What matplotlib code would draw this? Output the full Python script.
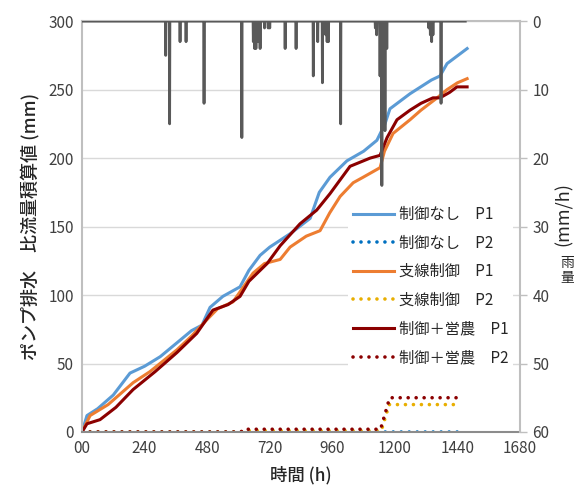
import numpy as np
import matplotlib
matplotlib.use("Agg")
import matplotlib.pyplot as plt

plt.rcParams['font.family'] = ['Noto Sans CJK JP', 'DejaVu Sans']

# cumulative specific discharge of pump drainage (mm), P1 series
h_none_p1 = [0, 19, 60, 120, 184, 240, 300, 376, 420, 460, 491, 540, 606, 640, 683, 720, 800,
             875, 910, 951, 1016, 1080, 1131, 1162, 1181, 1258, 1340, 1373, 1400, 1477]
v_none_p1 = [0, 12, 17, 27, 43, 48, 55, 67, 74, 78, 91, 99, 106, 118, 129, 135, 145,
             156, 175, 186, 198, 205, 213, 225, 236, 247, 257, 260, 269, 280]

h_branch_p1 = [0, 31, 100, 196, 260, 364, 420, 479, 520, 579, 656, 700, 760, 798, 860, 913,
               950, 990, 1040, 1078, 1143, 1160, 1193, 1258, 1300, 1362, 1400, 1440, 1477]
v_branch_p1 = [0, 12, 20, 36, 44, 60, 70, 82, 90, 95, 116, 123, 126, 135, 143, 147,
               160, 172, 182, 186, 193, 205, 218, 228, 235, 244, 250, 255, 258]

h_farm_p1 = [0, 19, 69, 130, 196, 280, 364, 440, 502, 560, 606, 640, 710, 760, 836, 900,
             951, 1028, 1105, 1143, 1170, 1208, 1258, 1300, 1346, 1373, 1410, 1438, 1477]
v_farm_p1 = [0, 6, 9, 18, 31, 44, 58, 72, 89, 93, 99, 110, 123, 136, 152, 162,
             174, 194, 200, 202, 215, 228, 235, 240, 244, 244, 248, 252, 252]

# P2 series
h_none_p2 = [0, 1450]
v_none_p2 = [0, 0]
h_branch_p2 = [0, 610, 618, 1148, 1178, 1450]
v_branch_p2 = [0, 0, 1, 1, 20, 20]
h_farm_p2 = [0, 610, 618, 1145, 1180, 1450]
v_farm_p2 = [0, 0, 2, 2, 25, 25]

# hourly rainfall events (hour, mm/h); other hours are dry
rain_hours = [321, 336, 376, 399, 468, 613, 657, 662, 667, 672, 677, 683, 700, 714, 720,
              779, 821, 887, 904, 922, 935, 940, 945, 992, 1125, 1130, 1143, 1150, 1156,
              1162, 1169, 1330, 1336, 1341, 1346, 1377]
rain_vals = [5, 15, 3, 3, 12, 17, 3, 4, 4, 2, 3, 4, 1, 1, 1,
             4, 4, 8, 3, 9, 2, 3, 3, 15, 1, 2, 8, 24, 3,
             16, 4, 1, 2, 3, 2, 12]
rain_end = 1470

hours = np.arange(rain_end + 1)
rain = np.zeros(len(hours))
rain[rain_hours] = rain_vals

fig = plt.figure(figsize=(5.74, 4.92), dpi=100)
ax = fig.add_axes([0.1429, 0.122, 0.7631, 0.835])
ax2 = ax.twinx()

grid_c = '#D9D9D9'
ax.set_xlim(0, 1680)
ax.set_ylim(0, 300)
ax.set_xticks(range(0, 1681, 240))
ax.set_xticklabels(['00'] + [str(t) for t in range(240, 1681, 240)])
ax.set_yticks(range(0, 301, 50))
ax.grid(axis='y', color=grid_c, lw=1)
ax.set_axisbelow(True)
ax.tick_params(length=0, labelsize=11, colors='#404040', pad=6)
for s in ['top', 'right']:
    ax.spines[s].set_visible(False)
ax.spines['left'].set_color('#BFBFBF')
ax.spines['left'].set_linewidth(1.5)
ax.spines['bottom'].set_color('#8C8C8C')
ax.spines['bottom'].set_linewidth(1.5)

dot = (0, (0.01, 2.2))
ax.plot(h_none_p1, v_none_p1, color='#5B9BD5', lw=2.2, label='制御なし　P1')
ax.plot(h_none_p2, v_none_p2, color='#0070C0', lw=2.6, ls=dot, dash_capstyle='round',
        label='制御なし　P2')
ax.plot(h_branch_p1, v_branch_p1, color='#ED7D31', lw=2.2, label='支線制御　P1')
ax.plot(h_branch_p2, v_branch_p2, color='#E8AE00', lw=2.6, ls=dot, dash_capstyle='round',
        label='支線制御　P2')
ax.plot(h_farm_p1, v_farm_p1, color='#8B0000', lw=2.2, label='制御＋営農　P1')
ax.plot(h_farm_p2, v_farm_p2, color='#8B0000', lw=2.6, ls=dot, dash_capstyle='round',
        label='制御＋営農　P2')

ax.set_xlabel('時間 (h)', fontsize=12.5, color='#262626', labelpad=6, fontweight='medium')
ax.set_ylabel('ポンプ排水　比流量積算値 (mm)', fontsize=13, color='#262626', labelpad=6,
              fontweight='medium')

ax2.plot(hours, rain, color='#595959', lw=2)
ax2.set_ylim(60, 0)
ax2.set_yticks(range(0, 61, 10))
ax2.tick_params(labelsize=11, colors='#404040', length=5, width=1, pad=4)
ax2.tick_params(axis='y', colors='#BFBFBF', labelcolor='#404040')
for s in ['top', 'left', 'bottom']:
    ax2.spines[s].set_visible(False)
ax2.spines['right'].set_color('#BFBFBF')
ax2.spines['right'].set_linewidth(1.5)
ax.plot([0, 1680], [300, 300], color='#BFBFBF', lw=1.5, clip_on=False, zorder=1)

fig.text(0.983, 0.565, '(mm/h)', rotation=90, fontsize=13, color='#262626',
         ha='center', va='center')
fig.text(0.988, 0.466, '雨', fontsize=10, color='#262626', ha='center', va='center')
fig.text(0.988, 0.434, '量', fontsize=10, color='#262626', ha='center', va='center')

leg = ax.legend(loc='upper left', bbox_to_anchor=(0.59, 0.58), frameon=True, fontsize=11,
                handlelength=2.7, handletextpad=0.3, labelspacing=0.76, borderpad=0.3)
leg.get_frame().set_edgecolor('none')
leg.get_frame().set_facecolor('white')
leg.get_frame().set_alpha(1)
for t in leg.get_texts():
    t.set_color('#262626')

fig.savefig('out.png', dpi=100)
